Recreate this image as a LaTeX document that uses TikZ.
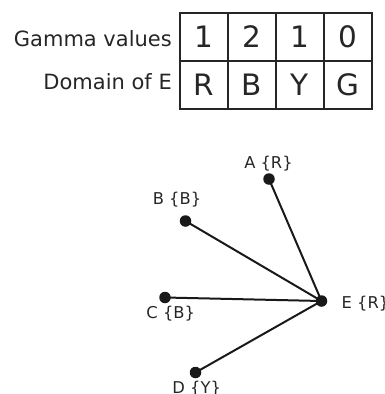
\documentclass[tikz,border=0pt]{standalone}
\usepackage{fontspec}
\setmainfont{DejaVu Sans}
\begin{document}
\begin{tikzpicture}[x=1pt,y=-1pt,
  cell/.style={draw=black!85,line width=1.5pt,minimum size=48pt,inner sep=0pt,font=\fontsize{29.5}{34}\selectfont,text=black!85},
  rowlab/.style={inner sep=0pt,anchor=base east,font=\fontsize{21}{25}\selectfont,text=black!85},
  dot/.style={circle,fill=black!90,minimum size=11.5pt,inner sep=0pt},
  vlab/.style={inner sep=0pt,anchor=base,font=\fontsize{16.3}{19}\selectfont,text=black!85},
  edge/.style={line width=2pt,draw=black!90}]
\useasboundingbox (0,0) rectangle (385,394);
% table
\node[cell] (g1) at (204,37) {1};
\node[cell] (g2) at (252,37) {2};
\node[cell] (g3) at (300,37) {1};
\node[cell] (g4) at (348,37) {0};
\node[cell] (d1) at (204,85) {R};
\node[cell] (d2) at (252,85) {B};
\node[cell] (d3) at (300,85) {Y};
\node[cell] (d4) at (348,85) {G};
\node[rowlab] (lg) at (172,46) {Gamma values};
\node[rowlab] (ld) at (172,89.5) {Domain of E};
% graph
\node[dot] (A) at (269,179) {};
\node[dot] (B) at (185.5,221) {};
\node[dot] (C) at (165,297.5) {};
\node[dot] (D) at (195.5,372.5) {};
\node[dot] (E) at (321.5,301) {};
\draw[edge] (A.center) -- (E.center);
\draw[edge] (B.center) -- (E.center);
\draw[edge] (C.center) -- (E.center);
\draw[edge] (D.center) -- (E.center);
\node[vlab] (la) at (268.5,168.5) {A \{R\}};
\node[vlab] (lb) at (177,204.5) {B \{B\}};
\node[vlab] (lc) at (170.7,318.5) {C \{B\}};
\node[vlab,anchor=base west] (le) at (341.5,308.5) {E \{R\}};
\node[vlab] (ldd) at (196.7,393.5) {D \{Y\}};
\end{tikzpicture}
\end{document}
